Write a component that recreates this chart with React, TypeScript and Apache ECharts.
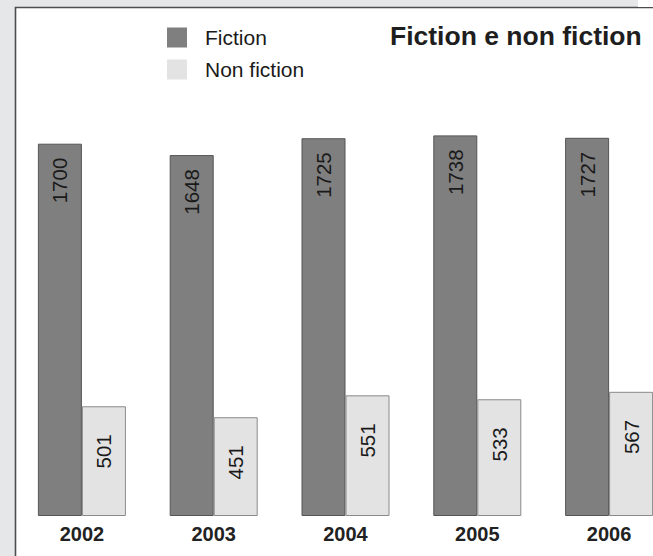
import React, { useEffect, useRef } from "react";
import * as echarts from "echarts";

const years = ["2002", "2003", "2004", "2005", "2006"];
const fiction = [1700, 1648, 1725, 1738, 1727];
const nonFiction = [501, 451, 551, 533, 567];
const seriesNames = ["Fiction", "Non fiction"];
const titleText = "Fiction e non fiction";

const FONT = "'Liberation Sans', Arial, Helvetica, sans-serif";

export default function App() {
  const ref = useRef<HTMLDivElement>(null);
  useEffect(() => {
    if (!ref.current) return;
    const chart = echarts.init(ref.current, undefined, { renderer: "svg" });
    const labelBase = {
      show: true,
      position: "insideTop",
      rotate: 90,
      align: "right",
      verticalAlign: "middle",
      fontFamily: FONT,
      fontSize: 20.5,
      color: "#1a1a1a",
    };
    chart.setOption({
      animation: false,
      backgroundColor: "#e6e7e9",
      graphic: [
        {
          type: "rect",
          silent: true,
          z: -10,
          shape: { x: 15.5, y: 7.5, width: 720, height: 600 },
          style: { fill: "#ffffff", stroke: "#4d4d4d", lineWidth: 1.6 },
        },
        {
          type: "rect",
          silent: true,
          z: -10,
          shape: { x: 638, y: 0, width: 40, height: 7 },
          style: { fill: "#ffffff" },
        },
      ],
      title: {
        text: titleText,
        left: 390,
        top: 22,
        padding: 0,
        textStyle: {
          fontFamily: FONT,
          fontSize: 26.5,
          fontWeight: "bold",
          color: "#1e1e1e",
        },
      },
      legend: {
        orient: "vertical",
        left: 167,
        top: 27,
        padding: 0,
        itemWidth: 20,
        itemHeight: 20,
        itemGap: 11,
        icon: "rect",
        itemStyle: { borderWidth: 0 },
        data: seriesNames,
        textStyle: {
          fontFamily: FONT,
          fontSize: 21,
          color: "#1a1a1a",
          padding: [0, 0, 0, 13],
        },
      },
      grid: { left: 16, top: 78, bottom: 40, right: 0 },
      xAxis: {
        type: "category",
        data: years,
        axisLine: { show: false },
        axisTick: { show: false },
        axisLabel: {
          margin: 8,
          fontFamily: FONT,
          fontSize: 20,
          fontWeight: "bold",
          color: "#222",
        },
      },
      yAxis: {
        type: "value",
        min: 0,
        max: 2000,
        show: false,
        splitLine: { show: false },
      },
      series: [
        {
          name: seriesNames[0],
          type: "bar",
          data: fiction,
          barWidth: 44,
          barGap: "0%",
          itemStyle: { color: "#7f7f7f", borderColor: "#555", borderWidth: 1 },
          label: { ...labelBase, distance: 14 },
        },
        {
          name: seriesNames[1],
          type: "bar",
          data: nonFiction,
          barWidth: 44,
          barGap: "0%",
          itemStyle: { color: "#e3e3e3", borderColor: "#8a8a8a", borderWidth: 1 },
          label: { ...labelBase, distance: 28 },
        },
      ],
    });
    return () => chart.dispose();
  }, []);
  return (
    <div
      style={{
        position: "absolute",
        left: 0,
        top: 0,
        width: 653,
        height: 556,
        overflow: "hidden",
      }}
    >
      <div ref={ref} style={{ width: 675, height: 556 }} />
    </div>
  );
}
